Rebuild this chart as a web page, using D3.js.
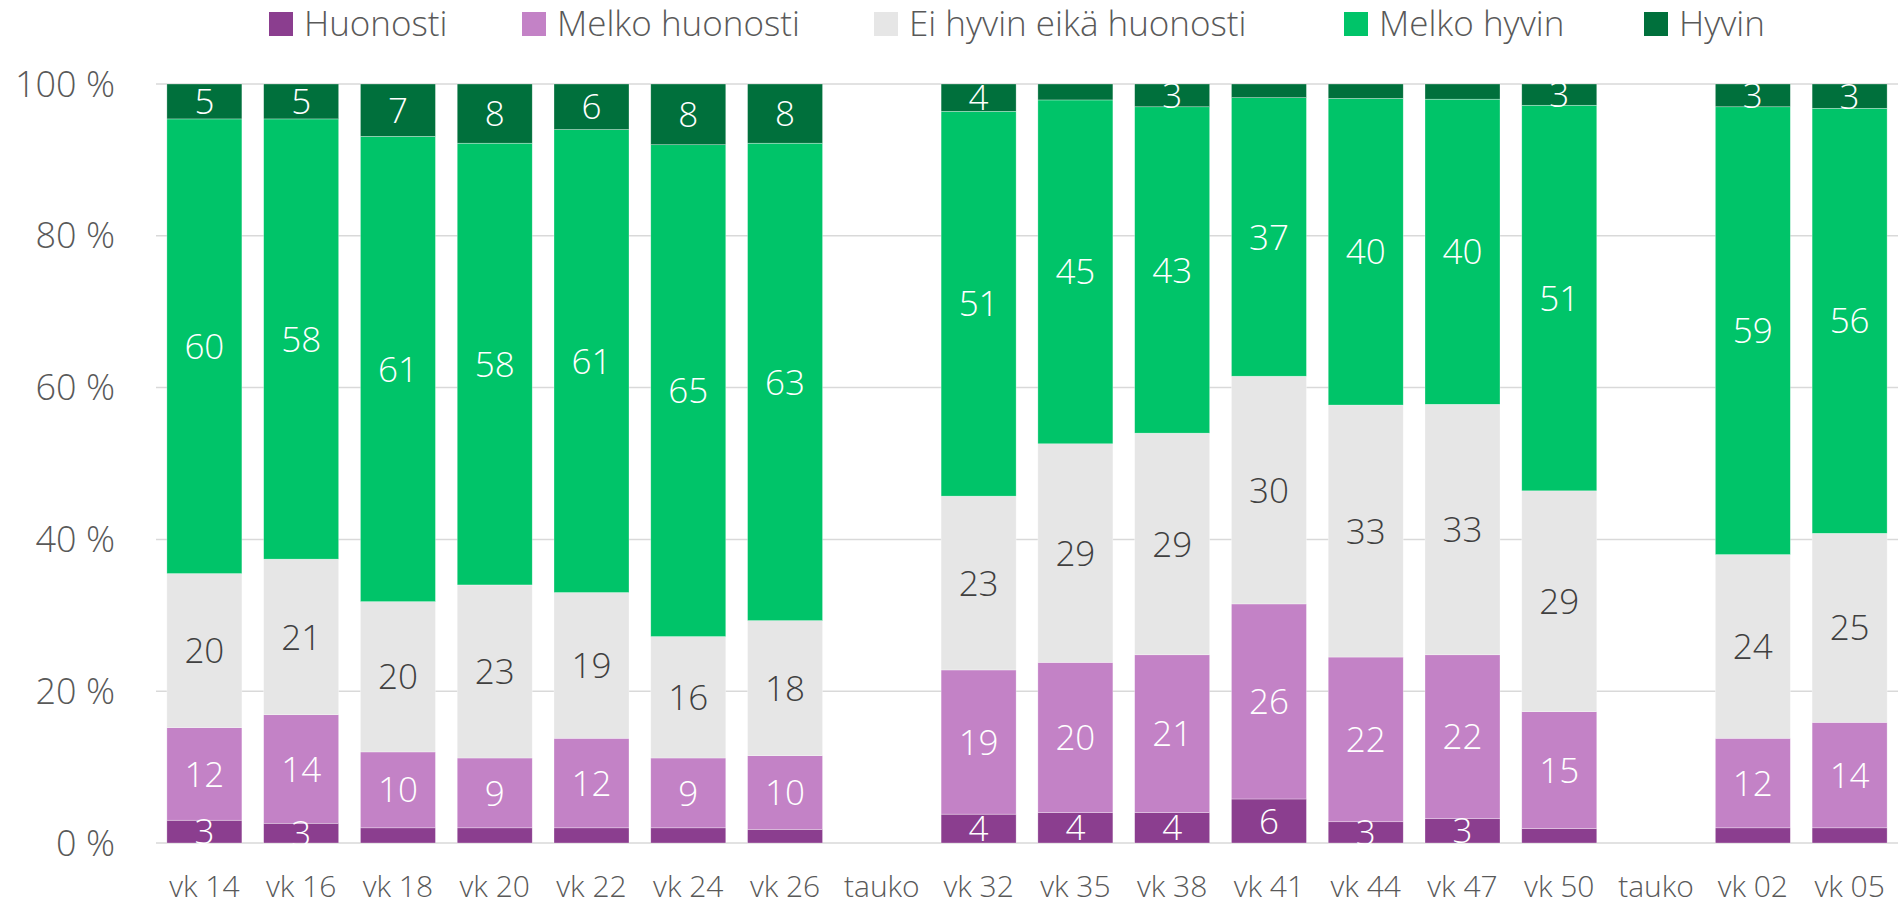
<!DOCTYPE html>
<html>
<head>
<meta charset="utf-8">
<script src="https://cdn.jsdelivr.net/npm/d3@7"></script>
<style>
  html, body { margin: 0; padding: 0; background: #fff; }
  svg { display: block; font-family: "Open Sans", Lato, sans-serif; font-weight: 300; }
</style>
</head>
<body>
<svg id="chart"></svg>
<script>
// ── Data ─────────────────────────────────────────────
const weeks = ['vk 14', 'vk 16', 'vk 18', 'vk 20', 'vk 22', 'vk 24', 'vk 26', 'tauko',
               'vk 32', 'vk 35', 'vk 38', 'vk 41', 'vk 44', 'vk 47', 'vk 50', 'tauko',
               'vk 02', 'vk 05'];
const seriesNames = ['Huonosti', 'Melko huonosti', 'Ei hyvin eikä huonosti', 'Melko hyvin', 'Hyvin'];

// null = no survey (tauko)
const huonosti      = [3.0, 2.6, 2.0, 2.0, 2.0, 2.0, 1.8, null, 3.8, 4.0, 4.0, 5.8, 2.8, 3.2, 1.9, null, 2.0, 2.0];
const melkoHuonosti = [12.2, 14.3, 10.0, 9.2, 11.8, 9.2, 9.7, null, 19.0, 19.8, 20.8, 25.7, 21.7, 21.6, 15.4, null, 11.8, 13.9];
const eiHyvin       = [20.3, 20.5, 19.8, 22.8, 19.2, 16.0, 17.8, null, 22.9, 28.8, 29.2, 30.0, 33.2, 33.0, 29.1, null, 24.2, 24.9];
const melkoHyvin    = [59.9, 58.0, 61.3, 58.2, 61.0, 64.8, 62.9, null, 50.7, 45.3, 43.0, 36.7, 40.4, 40.2, 50.8, null, 59.0, 56.0];
const hyvin         = [4.6, 4.6, 6.9, 7.8, 6.0, 8.0, 7.8, null, 3.6, 2.1, 3.0, 1.8, 1.9, 2.0, 2.8, null, 3.0, 3.2];

const yTicks = [0, 20, 40, 60, 80, 100];

const colors    = ['#8B3E8F', '#C382C6', '#E6E6E6', '#00C469', '#00703C'];
const labelFill = ['#fff', '#fff', '#404040', '#fff', '#fff'];

// ── Layout ───────────────────────────────────────────
const W = 1898, H = 906;
const M = { left: 156, right: 0, top: 84, bottom: 63 };

const svg = d3.select('#chart').attr('width', W).attr('height', H);

const x = d3.scaleBand()
  .domain(d3.range(weeks.length))
  .range([M.left, W - M.right])
  .paddingInner(0.225)
  .paddingOuter(0.1125);

const y = d3.scaleLinear().domain([0, 100]).range([H - M.bottom, M.top]);

// ── Gridlines ────────────────────────────────────────
svg.append('g')
  .selectAll('line')
  .data(yTicks)
  .join('line')
    .attr('x1', M.left)
    .attr('x2', W - M.right)
    .attr('y1', d => y(d))
    .attr('y2', d => y(d))
    .attr('stroke', '#D9D9D9')
    .attr('stroke-width', 1.5);

// y tick labels
svg.append('g')
  .selectAll('text')
  .data(yTicks)
  .join('text')
    .attr('x', 115)
    .attr('y', d => y(d))
    .attr('dy', '0.35em')
    .attr('text-anchor', 'end')
    .attr('fill', '#595959')
    .attr('font-size', 36)
    .text(d => `${d} %`);

// ── Stacks ───────────────────────────────────────────
const all = [huonosti, melkoHuonosti, eiHyvin, melkoHyvin, hyvin];
const rows = weeks.map((w, i) => {
  const r = { i };
  all.forEach((s, k) => { r[k] = s[i] == null ? 0 : s[i]; });
  return r;
});

const stack = d3.stack().keys(d3.range(all.length));
const layers = stack(rows);

const barG = svg.append('g');
layers.forEach((layer, k) => {
  barG.append('g')
    .selectAll('rect')
    .data(layer.filter(d => all[k][d.data.i] != null))
    .join('rect')
      .attr('x', d => x(d.data.i))
      .attr('width', x.bandwidth())
      .attr('y', d => y(d[1]))
      .attr('height', d => y(d[0]) - y(d[1]))
      .attr('fill', colors[k])
      .attr('stroke', '#fff')
      .attr('stroke-width', 0.6)
      .attr('stroke-opacity', 0.5);
});

// data labels (only values that round to 3 or more)
const labG = svg.append('g');
layers.forEach((layer, k) => {
  labG.append('g')
    .selectAll('text')
    .data(layer.filter(d => all[k][d.data.i] != null && Math.round(all[k][d.data.i]) >= 3))
    .join('text')
      .attr('x', d => x(d.data.i) + x.bandwidth() / 2)
      .attr('y', d => y((d[0] + d[1]) / 2))
      .attr('dy', '0.36em')
      .attr('text-anchor', 'middle')
      .attr('fill', labelFill[k])
      .attr('font-size', 35)
      .text(d => Math.round(all[k][d.data.i]));
});

// x labels
svg.append('g')
  .selectAll('text')
  .data(weeks)
  .join('text')
    .attr('x', (d, i) => x(i) + x.bandwidth() / 2)
    .attr('y', 897)
    .attr('text-anchor', 'middle')
    .attr('fill', '#595959')
    .attr('font-size', 30)
    .text(d => d);

// ── Legend ───────────────────────────────────────────
const legendX = [269, 522, 874, 1344, 1644];
const legG = svg.append('g');
seriesNames.forEach((name, k) => {
  legG.append('rect')
    .attr('x', legendX[k])
    .attr('y', 12)
    .attr('width', 24)
    .attr('height', 24)
    .attr('fill', colors[k]);
  legG.append('text')
    .attr('x', legendX[k] + 35)
    .attr('y', 36)
    .attr('fill', '#595959')
    .attr('font-size', 35)
    .text(name);
});
</script>
</body>
</html>
